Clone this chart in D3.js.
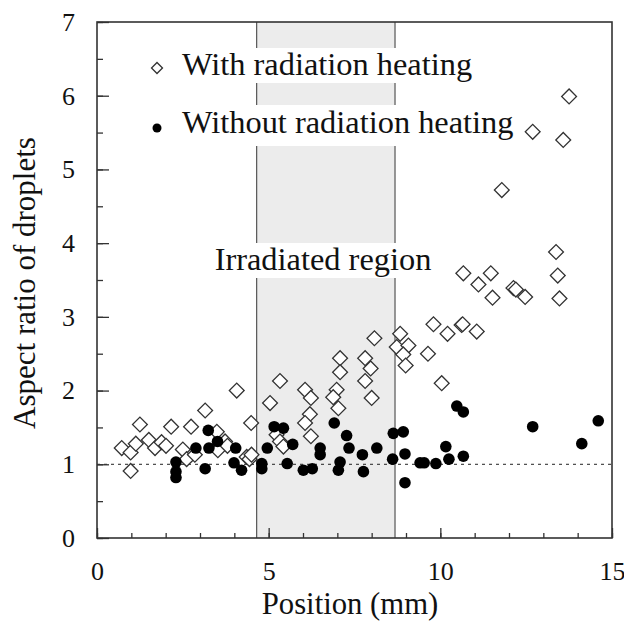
<!DOCTYPE html>
<html><head><meta charset="utf-8">
<script src="https://cdn.jsdelivr.net/npm/d3@7"></script>
<style>body{margin:0;background:#fff}svg{display:block}</style>
</head><body>
<svg id="c" width="624" height="621"></svg>
<script>
const withHeating = [
[0.72,1.22],[0.98,1.16],[0.98,0.91],[1.13,1.28],[1.25,1.54],[1.51,1.33],[1.69,1.22],[1.88,1.30],[2.01,1.25],[2.16,1.51],
[2.50,1.20],[2.61,1.07],[2.74,1.51],[2.85,1.13],[3.15,1.73],[3.49,1.44],[3.73,1.31],[3.52,1.19],[3.80,1.25],[4.07,2.00],
[4.49,1.56],[4.36,1.10],[4.44,1.07],[4.50,1.13],[5.04,1.83],[5.33,2.13],[5.23,1.40],[5.33,1.31],[5.43,1.24],[6.06,2.01],
[6.23,1.90],[6.20,1.68],[6.06,1.56],[6.23,1.38],[7.08,2.44],[7.08,2.25],[6.98,2.01],[6.88,1.91],[7.03,1.76],[8.08,2.71],
[7.81,2.44],[7.97,2.30],[7.81,2.13],[8.00,1.90],[8.83,2.77],[8.73,2.59],[9.07,2.61],[8.92,2.49],[8.99,2.34],[9.64,2.50],
[10.04,2.10],[13.75,5.99],[12.69,5.51],[13.58,5.40],[11.79,4.72],[13.37,3.88],[10.67,3.59],[11.47,3.59],[11.11,3.44],[13.42,3.56],
[12.13,3.39],[12.20,3.37],[12.47,3.27],[11.52,3.26],[13.47,3.25],[9.80,2.90],[10.21,2.77],[10.62,2.89],[10.65,2.90],[11.06,2.80]
];
const withoutHeating = [
[2.30,1.03],[2.30,0.90],[2.30,0.82],[2.88,1.22],[3.15,0.94],[3.24,1.46],[3.26,1.22],[3.51,1.31],[4.04,1.22],[3.99,1.02],
[4.21,0.92],[4.80,1.01],[4.80,0.94],[4.96,1.22],[5.16,1.51],[5.43,1.49],[5.70,1.27],[5.54,1.01],[6.01,0.92],[6.27,0.94],
[6.50,1.22],[6.50,1.13],[6.91,1.56],[7.08,1.03],[7.03,0.92],[7.27,1.39],[7.34,1.22],[7.73,1.13],[7.76,0.90],[8.15,1.22],
[8.63,1.42],[8.92,1.44],[8.61,1.07],[8.97,1.14],[8.97,0.75],[9.41,1.02],[9.53,1.02],[9.87,1.01],[10.16,1.24],[10.25,1.07],
[10.48,1.79],[10.67,1.71],[10.67,1.11],[12.69,1.51],[14.12,1.28],[14.60,1.59]
];
const irradiated = [4.65, 8.68];
const xTicks = [0,5,10,15];
const xMinor = d3.range(0,16,1);
const yTicks = [0,1,2,3,4,5,6,7];
const yMinor = d3.range(0,7.01,0.5);
const reference = 1;
const legendLabels = ["With radiation heating","Without radiation heating"];
const regionLabel = "Irradiated region";
const xTitle = "Position (mm)";
const yTitle = "Aspect ratio of droplets";

const svg = d3.select("#c");
const m = {l:97, r:12, t:22, b:83};
const W = 624, H = 621;
const x = d3.scaleLinear().domain([0,15]).range([m.l, W-m.r]);
const y = d3.scaleLinear().domain([0,7]).range([H-m.b, m.t]);
const font = "'Liberation Serif','Times New Roman',Times,serif";

// irradiated region
svg.append("rect").attr("x", x(irradiated[0])).attr("y", y(7))
  .attr("width", x(irradiated[1])-x(irradiated[0])).attr("height", y(0)-y(7))
  .attr("fill", "#ececec");
irradiated.forEach(v => svg.append("line").attr("x1", x(v)).attr("x2", x(v))
  .attr("y1", y(0)).attr("y2", y(7)).attr("stroke", "#555").attr("stroke-width", 1.2));

// reference line
svg.append("line").attr("x1", x(0)).attr("x2", x(15)).attr("y1", y(reference)).attr("y2", y(reference))
  .attr("stroke", "#222").attr("stroke-width", 1).attr("stroke-dasharray", "3,4");

// axes
const gx = svg.append("g").attr("transform", `translate(0,${y(0)})`);
gx.call(d3.axisBottom(x).tickValues(xMinor).tickSize(-5).tickFormat(""));
const gx2 = svg.append("g").attr("transform", `translate(0,${y(0)})`);
gx2.call(d3.axisBottom(x).tickValues(xTicks).tickSize(-10).tickPadding(24).tickFormat(d3.format("d")));
const gy = svg.append("g").attr("transform", `translate(${x(0)},0)`);
gy.call(d3.axisLeft(y).tickValues(yMinor).tickSize(-6).tickFormat(""));
const gy2 = svg.append("g").attr("transform", `translate(${x(0)},0)`);
gy2.call(d3.axisLeft(y).tickValues(yTicks).tickSize(-12).tickPadding(22).tickFormat(d3.format("d")));
[gx,gx2,gy,gy2].forEach(g => {
  g.select(".domain").remove();
  g.selectAll(".tick line").attr("stroke","#333").attr("stroke-width",1.3);
  g.selectAll("text").attr("font-family", font).attr("font-size", 26).attr("fill","#111");
});
gx2.selectAll("text").attr("dy","0.71em");

// frame
svg.append("rect").attr("x", x(0)).attr("y", y(7)).attr("width", x(15)-x(0)).attr("height", y(0)-y(7))
  .attr("fill","none").attr("stroke","#333").attr("stroke-width",1.6);

// text with white background
function boxedText(tx, ty, str, size, anchor, boxTop, boxBottom) {
  const t = svg.append("text").attr("x", tx).attr("y", ty).attr("font-family", font)
    .attr("font-size", size).attr("fill","#111").attr("text-anchor", anchor).text(str);
  const bb = t.node().getBBox();
  svg.insert("rect", () => t.node()).attr("x", bb.x-4).attr("y", boxTop)
    .attr("width", bb.width+8).attr("height", boxBottom-boxTop).attr("fill","#fff");
  return t;
}

// points
const diamond = d3.symbol().type(d3.symbolSquare).size(110);
svg.append("g").selectAll("path").data(withHeating).join("path")
  .attr("d", diamond).attr("transform", d => `translate(${x(d[0])},${y(d[1])}) rotate(45)`)
  .attr("fill","#fff").attr("stroke","#333").attr("stroke-width",1.3);
svg.append("g").selectAll("circle").data(withoutHeating).join("circle")
  .attr("cx", d => x(d[0])).attr("cy", d => y(d[1])).attr("r", 5.8).attr("fill","#000");

// legend
boxedText(182, 75, legendLabels[0], 32.4, "start", 48, 83);
boxedText(182, 133, legendLabels[1], 32.4, "start", 105, 146);
svg.append("path").attr("d", d3.symbol().type(d3.symbolSquare).size(60))
  .attr("transform","translate(157,68) rotate(45)").attr("fill","#fff").attr("stroke","#333").attr("stroke-width",1.3);
svg.append("circle").attr("cx",157).attr("cy",128).attr("r",4.5).attr("fill","#000");

// irradiated label
boxedText(323, 270, regionLabel, 32.4, "middle", 243, 278);

// titles
svg.append("text").attr("x", 350).attr("y", 614).attr("text-anchor","middle")
  .attr("font-family", font).attr("font-size", 30.7).attr("fill","#111").text(xTitle);
svg.append("text").attr("transform","translate(35,283) rotate(-90)").attr("text-anchor","middle")
  .attr("font-family", font).attr("font-size", 31).attr("fill","#111").text(yTitle);
</script>
</body></html>
